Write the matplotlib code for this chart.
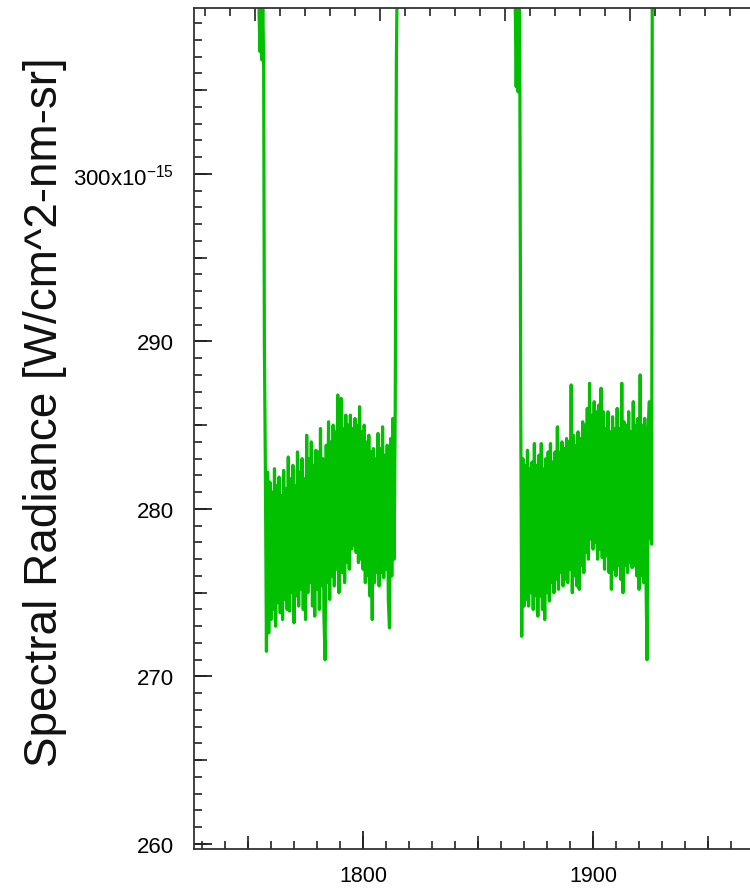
import numpy as np
import matplotlib
matplotlib.use("Agg")
import matplotlib.pyplot as plt
from matplotlib.ticker import MultipleLocator, FuncFormatter

plt.rcParams['font.family'] = ['Liberation Sans', 'DejaVu Sans']
plt.rcParams['mathtext.fontset'] = 'custom'
plt.rcParams['mathtext.rm'] = 'Liberation Sans'
plt.rcParams['mathtext.it'] = 'Liberation Sans'

# --- data (wavelength nm, radiance in 1e-15 W/cm^2-nm-sr) ---
# window 1: edge in/out (values above 310 are off the top of the plot)
win1_in_x = [1754.4, 1754.8, 1755.2, 1755.6, 1756.0, 1756.4, 1756.8, 1757.1]
win1_in_y = [330.0, 309.5, 307.3, 311.0, 306.8, 310.5, 306.2, 289.8]
win1_start, win1_step = 1757.5, 0.5
win1_y = [
    283.0, 271.5, 282.2, 272.6, 281.6, 273.4, 281.0, 274.0, 282.4, 273.0,
    281.4, 274.4, 281.9, 273.8, 280.8, 273.4, 282.3, 274.6, 281.2, 274.0,
    283.1, 273.9, 281.8, 275.0, 282.6, 273.2, 281.4, 274.8, 283.4, 274.2,
    282.2, 275.2, 283.0, 274.0, 281.8, 273.4, 284.4, 275.0, 283.0, 275.6,
    284.0, 274.2, 282.6, 273.6, 283.5, 275.2, 283.4, 274.0, 284.8, 275.4,
    283.0, 273.6, 271.0, 283.8, 275.6, 285.2, 274.6, 284.0, 276.0, 285.0,
    275.4, 284.6, 276.4, 286.8, 275.0, 285.2, 286.6, 276.2, 284.8, 275.6,
    285.6, 276.8, 285.0, 276.4, 285.6, 277.6, 284.8, 277.8, 285.4, 277.4,
    285.0, 276.8, 286.1, 277.0, 284.6, 276.4, 285.0, 275.6, 284.0, 276.0,
    284.4, 274.8, 283.4, 273.4, 283.6, 275.6, 283.0, 276.2, 284.5, 275.4,
    283.6, 276.2, 284.9, 275.9, 283.2, 276.4, 283.8, 274.6, 272.9, 284.2,
    276.0, 285.4, 277.0, 286.0,
]
win1_out_x = [1814.5, 1814.8, 1815.1]
win1_out_y = [306.7, 311.0, 330.0]

# window 2
win2_in_x = [1865.8, 1866.2, 1866.6, 1867.0, 1867.4, 1867.8, 1868.2, 1868.6]
win2_in_y = [330.0, 310.0, 305.2, 311.0, 304.9, 310.6, 305.0, 285.2]
win2_start, win2_step = 1869.0, 0.5
win2_y = [
    272.4, 283.0, 274.2, 282.6, 274.6, 283.5, 274.2, 282.4, 275.0, 282.8,
    274.0, 283.9, 274.8, 282.6, 273.6, 283.2, 274.8, 283.9, 274.0, 282.4,
    273.4, 283.0, 275.0, 283.4, 274.5, 283.9, 275.6, 282.8, 275.0, 283.4,
    275.8, 284.9, 275.2, 283.4, 276.2, 284.0, 275.4, 283.6, 275.8, 284.2,
    275.6, 284.0, 276.4, 287.4, 275.0, 284.4, 276.0, 283.8, 275.4, 284.6,
    275.2, 284.2, 276.6, 285.2, 276.2, 285.0, 277.4, 286.0, 277.0, 287.5,
    278.2, 285.6, 277.6, 286.4, 278.0, 285.8, 277.0, 286.2, 277.6, 287.2,
    277.1, 285.8, 276.4, 284.8, 277.2, 285.8, 276.2, 284.6, 275.2, 285.5,
    276.4, 284.8, 276.0, 286.0, 276.6, 284.8, 275.8, 287.5, 275.0, 285.2,
    276.6, 285.0, 276.2, 285.8, 276.8, 284.6, 276.5, 286.4, 276.6, 285.0,
    276.0, 285.4, 275.2, 288.0, 276.0, 285.0, 275.6, 285.4, 276.2, 271.0,
    284.6, 286.4, 278.4, 277.9,
]
win2_out_x = [1925.9]
win2_out_y = [330.0]


def build(in_x, in_y, start, step, vals, out_x, out_y):
    nx = start + step * np.arange(len(vals))
    x = np.concatenate([in_x, nx, out_x])
    y = np.concatenate([in_y, vals, out_y])
    return x, y


x1, y1 = build(win1_in_x, win1_in_y, win1_start, win1_step, win1_y, win1_out_x, win1_out_y)
x2, y2 = build(win2_in_x, win2_in_y, win2_start, win2_step, win2_y, win2_out_x, win2_out_y)

fig = plt.figure(figsize=(7.5, 8.95), dpi=100)
# axes runs off the right edge of the picture, as in the original
ax = fig.add_axes([194 / 750, 45 / 895, 583 / 750, 841 / 895])

green = '#00c000'
ax.plot(x1, y1, color=green, lw=2.3)
ax.plot(x2, y2, color=green, lw=2.3)

ax.set_xlim(1726.5, 1980)
ax.set_ylim(259.7, 309.9)

for s in ax.spines.values():
    s.set_linewidth(1.3)
    s.set_color('#333333')
ax.spines['right'].set_visible(False)

px = 72 / 100  # points per pixel
ax.xaxis.set_major_locator(MultipleLocator(100))
ax.xaxis.set_minor_locator(MultipleLocator(10))
ax.yaxis.set_major_locator(MultipleLocator(10))
ax.yaxis.set_minor_locator(MultipleLocator(1))


def yfmt(v, pos):
    if abs(v - 300) < 1e-6:
        return r'300x10$^{-15}$'
    return f'{v:.0f}'


ax.yaxis.set_major_formatter(FuncFormatter(yfmt))
ax.tick_params(which='major', direction='in', length=18 * px, width=1.3,
               color='#222222', labelsize=15.5)
ax.tick_params(axis='y', which='major', pad=20 * px, labelsize=16)
ax.tick_params(axis='x', which='major', pad=16 * px)
ax.tick_params(which='minor', direction='in', length=8 * px, width=1.2,
               color='#222222')

# medium ticks every 5 / 50
sy = ax.secondary_yaxis('left')
sy.spines['left'].set_visible(False)
sy.yaxis.set_major_locator(MultipleLocator(5))
sy.tick_params(direction='in', length=13 * px, width=1.2, color='#222222',
               labelleft=False)
sx = ax.secondary_xaxis('bottom')
sx.spines['bottom'].set_visible(False)
sx.xaxis.set_major_locator(MultipleLocator(50))
sx.tick_params(direction='in', length=13 * px, width=1.2, color='#222222',
               labelbottom=False)

# top axis: separate scale, ticks only
top = ax.secondary_xaxis('top', functions=(lambda d: 4.32 + (d - 1800) * 0.092,
                                           lambda u: 1800 + (u - 4.32) / 0.092))
top.spines['top'].set_visible(False)
top.xaxis.set_major_locator(MultipleLocator(5))
top.xaxis.set_minor_locator(MultipleLocator(1))
top.tick_params(which='major', direction='in', length=13 * px, width=1.2,
                color='#222222', labeltop=False)
top.tick_params(which='minor', direction='in', length=8 * px, width=1.2,
                color='#222222')

fig.text(0.06, 0.54, 'Spectral Radiance [W/cm^2-nm-sr]', rotation=90,
         ha='center', va='center', fontsize=33, color='#111111')

fig.savefig('out.png', dpi=100)
